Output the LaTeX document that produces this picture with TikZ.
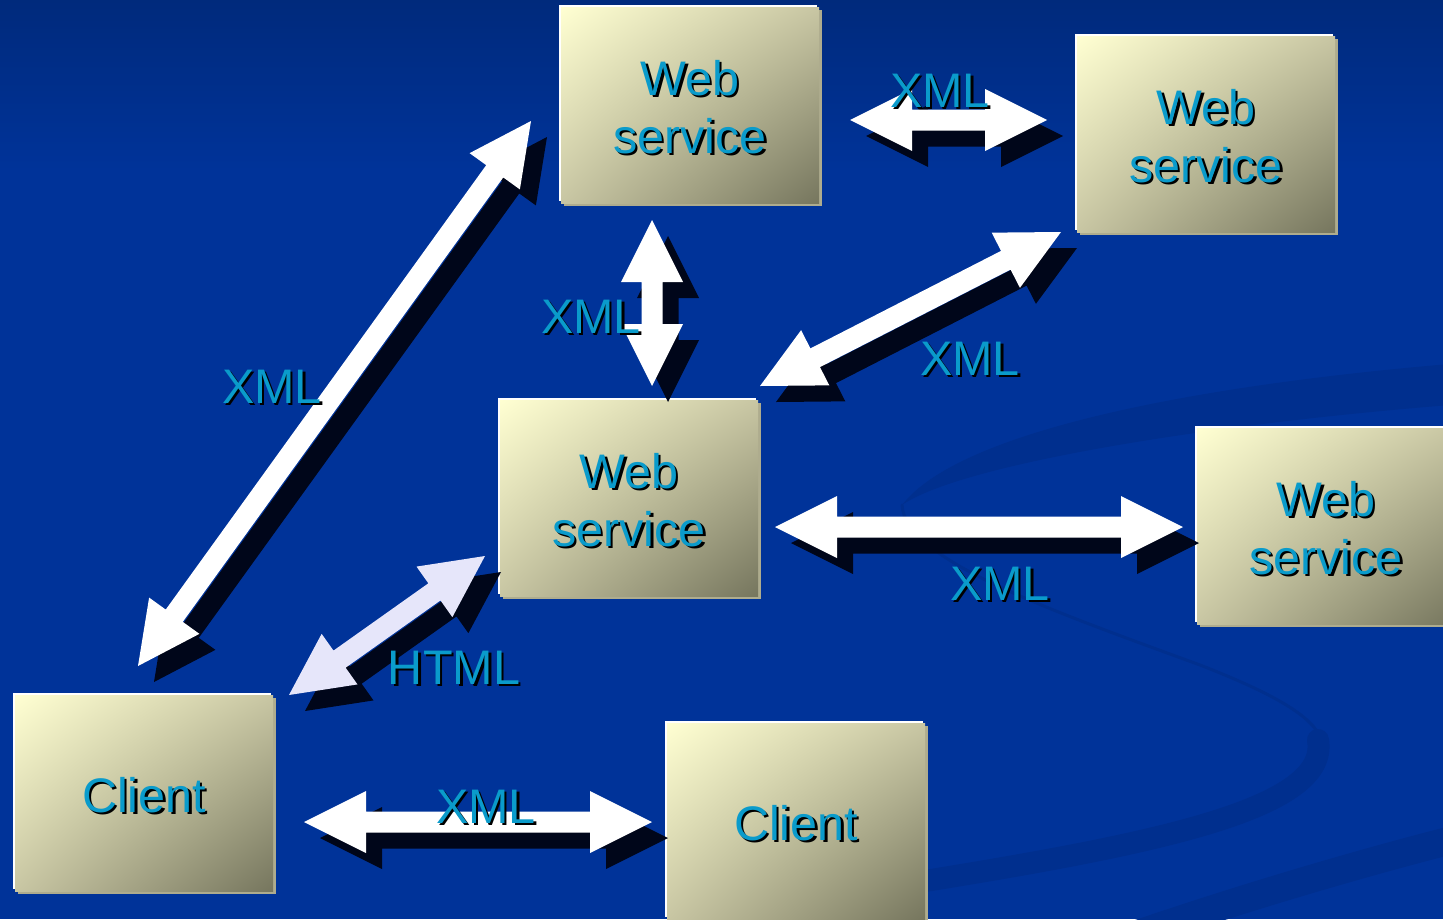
\documentclass[tikz,border=0pt]{standalone}
\usepackage{fontspec}
\setmainfont{Liberation Sans}
\usetikzlibrary{calc,shadings}
\definecolor{bgmain}{HTML}{003399}
\definecolor{bgtop}{HTML}{002A7C}
\definecolor{swirlc}{HTML}{002F8E}
\definecolor{boxtl}{HTML}{FFFFD2}
\definecolor{boxbr}{HTML}{76765E}
\definecolor{boxmid}{HTML}{C8C6A3}
\definecolor{boxedge}{HTML}{AEAC8E}
\definecolor{txt}{HTML}{0A9BCB}
\definecolor{ashadow}{HTML}{00061A}
\definecolor{lav}{HTML}{E6E6FA}

\newcommand\sh[1]{\makebox[0pt][l]{\hspace*{2.5pt}\raisebox{-2.5pt}{\color{black}#1}}#1}

% double-headed fat arrow between two named points
\newcommand\fatarrow[3]{%
  \fill[#1] (#2)
   -- ($(#2)!62pt!(#3)!31pt!90:(#3)$)
   -- ($(#2)!62pt!(#3)!10.5pt!90:(#3)$)
   -- ($(#3)!62pt!(#2)!10.5pt!-90:(#2)$)
   -- ($(#3)!62pt!(#2)!31pt!-90:(#2)$)
   -- (#3)
   -- ($(#3)!62pt!(#2)!31pt!90:(#2)$)
   -- ($(#3)!62pt!(#2)!10.5pt!90:(#2)$)
   -- ($(#2)!62pt!(#3)!10.5pt!-90:(#3)$)
   -- ($(#2)!62pt!(#3)!31pt!-90:(#3)$)
   -- cycle;}

\tikzset{
  boxbody/.style={shape=rectangle, inner sep=0pt, outer sep=0pt,
    minimum width=258pt, minimum height=196pt, anchor=north west,
    upper left=boxtl, lower right=boxbr, upper right=boxmid, lower left=boxmid},
  boxtext/.style={text=txt, align=center, inner sep=0pt, font=\fontsize{48.5}{58}\selectfont},
  lbl/.style={text=txt, font=\fontsize{48.5}{58}\selectfont, inner sep=0pt, anchor=base},
  swirl/.style={draw=swirlc, line cap=round},
}

\newcommand\wbox[4]{%
  \fill[white] (#2-2,#3-2) rectangle ++(258,196);
  \fill[boxedge] (#2+3,#3+3) rectangle ++(258,196);
  \node[boxbody] (#1) at (#2,#3) {};
  \node[boxtext] (#1t) at ($(#1.center)+(0,3)$) {#4};}

\begin{document}
\begin{tikzpicture}[x=1pt,y=-1pt]
\useasboundingbox (0,0) rectangle (1443,919);
% background
\fill[bgmain] (0,0) rectangle (1443,919);
\shade[top color=bgtop, bottom color=bgmain] (0,0) rectangle (1443,170);
% swirl
\fill[swirlc] (1450,364) .. controls (1200,385) and (960,430) .. (902,505)
   .. controls (960,465) and (1200,425) .. (1450,405) -- cycle;
\draw[swirl, line width=3pt] (902,505) .. controls (905,560) and (1050,610) .. (1200,665)
   .. controls (1290,700) and (1325,725) .. (1322,750);
\draw[swirl, line width=22pt] (1318,740) .. controls (1330,810) and (1150,845) .. (900,885);
\draw[swirl, line width=28pt] (1120,940) .. controls (1250,895) and (1380,858) .. (1460,838);

% boxes
\wbox{ws1}{561}{7}{\sh{Web}\\\sh{service}}
\wbox{ws2}{1077}{36}{\sh{Web}\\\sh{service}}
\wbox{ws3}{500}{400}{\sh{Web}\\\sh{service}}
\wbox{ws4}{1197}{428}{\sh{Web}\\\sh{service}}
\wbox{cl1}{15}{695}{\sh{Client}}
\wbox{cl2}{667}{723}{\sh{Client}}

% arrow end points
\coordinate (a1s) at (850,120);  \coordinate (a1e) at (1047,120);
\coordinate (a2s) at (652,220);  \coordinate (a2e) at (652,386);
\coordinate (a3s) at (760,386);  \coordinate (a3e) at (1061,232);
\coordinate (a4s) at (138,666);  \coordinate (a4e) at (531,121);
\coordinate (a5s) at (775,527);  \coordinate (a5e) at (1183,527);
\coordinate (a6s) at (289,695);  \coordinate (a6e) at (485,556);
\coordinate (a7s) at (304,822);  \coordinate (a7e) at (652,822);

% shadows
\begin{scope}[transform canvas={xshift=16pt,yshift=-16pt}]
  \fatarrow{ashadow}{a1s}{a1e}
  \fatarrow{ashadow}{a2s}{a2e}
  \fatarrow{ashadow}{a3s}{a3e}
  \fatarrow{ashadow}{a4s}{a4e}
  \fatarrow{ashadow}{a5s}{a5e}
  \fatarrow{ashadow}{a6s}{a6e}
  \fatarrow{ashadow}{a7s}{a7e}
\end{scope}
% arrows
\fatarrow{white}{a1s}{a1e}
\fatarrow{white}{a2s}{a2e}
\fatarrow{white}{a3s}{a3e}
\fatarrow{white}{a4s}{a4e}
\fatarrow{white}{a5s}{a5e}
\fatarrow{lav}{a6s}{a6e}
\fatarrow{white}{a7s}{a7e}

% labels
\node[lbl] (l1) at (940,107) {\sh{XML}};
\node[lbl] (l2) at (591,333) {\sh{XML}};
\node[lbl] (l3) at (272,403) {\sh{XML}};
\node[lbl] (l4) at (970,375) {\sh{XML}};
\node[lbl] (l5) at (1000,600) {\sh{XML}};
\node[lbl] (l6) at (486,823) {\sh{XML}};
\node[lbl] (l7) at (454,684) {\sh{HTML}};
\end{tikzpicture}
\end{document}
